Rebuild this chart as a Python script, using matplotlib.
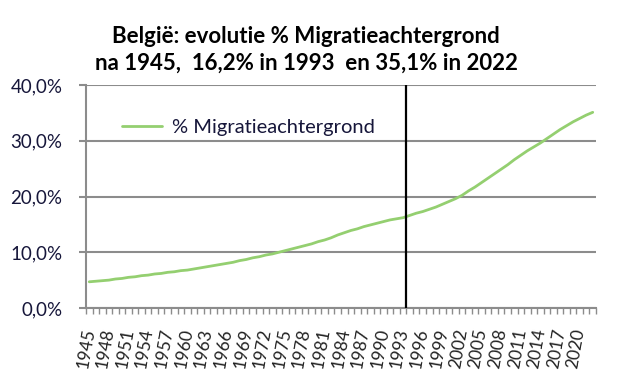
import matplotlib
matplotlib.use("Agg")
import matplotlib.pyplot as plt
import numpy as np

years = list(range(1945, 2023))
pct = [4.7, 4.8, 4.9, 5.0, 5.2, 5.3, 5.5, 5.6, 5.8, 5.9,
       6.1, 6.2, 6.4, 6.5, 6.7, 6.8, 7.0, 7.2, 7.4, 7.6,
       7.8, 8.0, 8.2, 8.5, 8.7, 9.0, 9.2, 9.5, 9.7, 10.0,
       10.3, 10.6, 10.9, 11.2, 11.5, 11.9, 12.2, 12.6, 13.1, 13.5,
       13.9, 14.2, 14.6, 14.9, 15.2, 15.5, 15.8, 16.0, 16.2, 16.6,
       17.0, 17.3, 17.7, 18.1, 18.6, 19.1, 19.6, 20.2, 21.0, 21.7,
       22.5, 23.3, 24.1, 24.9, 25.7, 26.6, 27.4, 28.2, 28.9, 29.6,
       30.4, 31.2, 32.0, 32.7, 33.4, 34.0, 34.6, 35.1]
label_years = list(range(1945, 2021, 3))
yticks = [0, 10, 20, 30, 40]
marker_year = 1993
series_name = "% Migratieachtergrond"
title = "België: evolutie % Migratieachtergrond\nna 1945,  16,2% in 1993  en 35,1% in 2022"

font = ["Lato", "DejaVu Sans"]
plt.rcParams['font.family'] = font
txt = "#16163a"
grid = "#8c8c8c"

fig = plt.figure(figsize=(6.35, 3.76), dpi=100)
ax = fig.add_axes([86/635, 1-308/376, 510/635, 223/376])

x = np.arange(len(years))
ax.plot(x, pct, color="#94cf70", lw=2.0, label=series_name, solid_capstyle="round", zorder=3)

mi = years.index(marker_year)
ax.axvline(mi + 0.5, color="black", lw=1.6, zorder=4)

ax.set_xlim(-0.5, len(years) - 0.5)
ax.set_ylim(0, 40)
ax.set_yticks(yticks)
ax.set_yticklabels([f"{v:.1f}%".replace(".", ",") for v in yticks], fontsize=13.5, color=txt)
ax.yaxis.grid(True, color=grid, lw=1.5)
ax.set_axisbelow(True)

ax.set_xticks(np.arange(len(years) + 1) - 0.5, minor=True)
ax.set_xticks([years.index(y) for y in label_years])
ax.set_xticklabels([str(y) for y in label_years], rotation=80, ha="right", va="center",
                   rotation_mode="anchor", fontsize=12.5, color="#222222")
ax.tick_params(axis="x", which="major", length=0, pad=15)
ax.tick_params(axis="x", which="minor", length=4, width=1, color=grid, direction="out")
ax.tick_params(axis="y", length=5, width=1.5, color=grid, pad=12)

for s in ["top", "right"]:
    ax.spines[s].set_visible(False)
for s in ["left", "bottom"]:
    ax.spines[s].set_color(grid)
    ax.spines[s].set_linewidth(1.5)

leg = ax.legend(loc="upper left", bbox_to_anchor=(0.035, 0.93), frameon=False,
                handlelength=2.0, handletextpad=0.5, fontsize=14.5)
for t in leg.get_texts():
    t.set_color(txt)

fig.text(306/635, 1-50/376, title, ha="center", va="center", fontsize=16,
         fontweight="bold", color="black", linespacing=1.3)

fig.savefig("out.png", dpi=100)
